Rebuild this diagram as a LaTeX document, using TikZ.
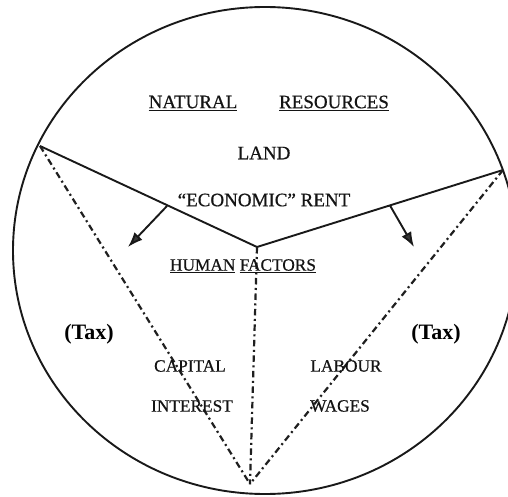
\documentclass[tikz,border=0pt]{standalone}
\usepackage{fontspec}
\setmainfont{Liberation Serif}
\newfontfamily\scanfont{Liberation Serif}[FakeBold=0.6]
\usetikzlibrary{arrows.meta}
\begin{document}
\begin{tikzpicture}[x=1pt,y=-1pt,
  solidline/.style={line width=1.9pt,draw=black!90},
  dashdot/.style={line width=2.2pt,draw=black!88,dash pattern=on 6.5pt off 3.5pt on 2pt off 3.5pt},
  arr/.style={line width=1.9pt,draw=black!90,-{Latex[length=15pt,width=11pt,fill=black!78]}},
  bigtxt/.style={font=\scanfont\fontsize{19}{22}\selectfont,text=black!92,inner sep=0pt},
  smalltxt/.style={font=\scanfont\fontsize{17.3}{20}\selectfont,text=black!92,inner sep=0pt},
  taxtxt/.style={font=\fontsize{22}{26}\selectfont\bfseries,text=black,inner sep=0pt}]
\useasboundingbox (0,0) rectangle (508,497);
\clip (0,0) rectangle (508,497);
\fill[white] (0,0) rectangle (508,497);
% outer circle
\draw[line width=1.9pt,draw=black!90] (265,250.5) ellipse [x radius=252, y radius=243.5];
% key points
\coordinate (L) at (40,146);
\coordinate (V) at (257,247);
\coordinate (R) at (503,170);
\coordinate (B) at (250,484);
\coordinate (la) at (167,206);
\coordinate (lt) at (128,247);
\coordinate (ra) at (390,205.5);
\coordinate (rt) at (414,247);
% chords
\draw[solidline,line join=miter] (L) -- (V) -- (R);
% arrows
\draw[arr] (la) -- (lt);
\draw[arr] (ra) -- (rt);
% dash-dot lines
\draw[dashdot] (L) -- (B);
\draw[dashdot] (V) -- (B);
\draw[dashdot] (R) -- (B);
% texts
\node[bigtxt] (nat) at (193,103) {\underline{NATURAL}};
\node[bigtxt] (res) at (334,103) {\underline{RESOURCES}};
\node[bigtxt] (land) at (264,153) {LAND};
\node[bigtxt] (rent) at (264,200) {“ECONOMIC” RENT};
\node[smalltxt] (hum) at (243,266) {\underline{HUMAN} \underline{FACTORS}};
\node[taxtxt] (taxl) at (89,334) {(Tax)};
\node[taxtxt,fill=white,inner sep=1pt] (taxr) at (436,334) {(Tax)};
\node[smalltxt] (cap) at (190,366) {CAPITAL};
\node[smalltxt] (lab) at (346,366) {LABOUR};
\node[smalltxt] (int) at (192,406) {INTEREST};
\node[smalltxt] (wag) at (340,406) {WAGES};
\end{tikzpicture}
\end{document}
